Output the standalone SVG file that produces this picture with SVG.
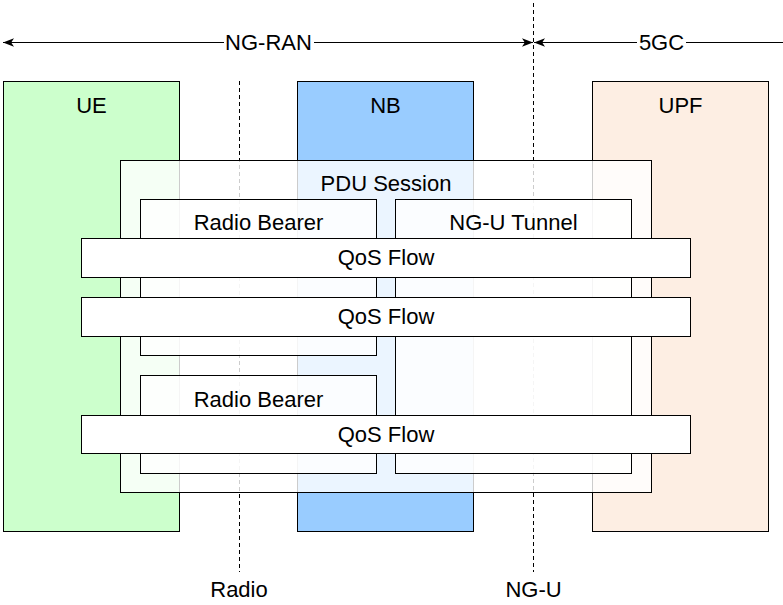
<svg xmlns="http://www.w3.org/2000/svg" width="783" height="605" viewBox="0 0 783 605">
  <style>
    text { font-family: "Liberation Sans", Arial, sans-serif; font-size: 22px; fill: #000; text-anchor: middle; }
    .box { stroke: #000; stroke-width: 1; }
    .ue { fill: #CCFFCC; }
    .nb { fill: #99CCFF; }
    .upf { fill: #FDEEE3; }
    .trans { fill: #FFFFFF; fill-opacity: 0.8; }
    .solid { fill: #FFFFFF; }
    .dash { stroke: #000; stroke-width: 1; stroke-dasharray: 4 3; fill: none; }
    .line { stroke: #000; stroke-width: 1; fill: none; }
  </style>
  <defs>
    <marker id="arrow" viewBox="0 0 11 10" refX="11" refY="5" markerWidth="11" markerHeight="10" markerUnits="userSpaceOnUse" orient="auto-start-reverse">
      <path d="M0,0.8 L11,5 L0,9.2 L2.8,5 Z" fill="#000"/>
    </marker>
  </defs>
  <rect width="783" height="605" fill="#FFFFFF"/>

  <g id="UE"><rect class="box ue" x="3.5" y="81.5" width="176" height="450"/><text x="91.5" y="113">UE</text></g>
  <g id="NB"><rect class="box nb" x="297.5" y="81.5" width="176" height="450"/><text x="385.5" y="113">NB</text></g>
  <g id="UPF"><rect class="box upf" x="592.5" y="81.5" width="176" height="450"/><text x="680.5" y="113">UPF</text></g>

  <g id="boundaries">
    <line class="dash" x1="239.5" y1="81" x2="239.5" y2="572"/>
    <line class="dash" x1="533.5" y1="3" x2="533.5" y2="572"/>
  </g>

  <g id="PDU_Session"><rect class="box trans" x="120.5" y="160.5" width="531" height="332"/><text x="386" y="191">PDU Session</text></g>
  <g id="Radio_Bearer_1"><rect class="box trans" x="140.5" y="199.5" width="236" height="156"/><text x="258.5" y="230">Radio Bearer</text></g>
  <g id="NG-U_Tunnel"><rect class="box trans" x="395.5" y="199.5" width="236" height="274"/><text x="513.5" y="230">NG-U Tunnel</text></g>
  <g id="Radio_Bearer_2"><rect class="box trans" x="140.5" y="375.5" width="236" height="98"/><text x="258.5" y="407">Radio Bearer</text></g>

  <g id="QoS_Flow_1"><rect class="box solid" x="81.5" y="238.5" width="609" height="39"/><text x="386" y="265">QoS Flow</text></g>
  <g id="QoS_Flow_2"><rect class="box solid" x="81.5" y="297.5" width="609" height="39"/><text x="386" y="324">QoS Flow</text></g>
  <g id="QoS_Flow_3"><rect class="box solid" x="81.5" y="415.5" width="609" height="38"/><text x="386" y="442">QoS Flow</text></g>

  <g id="connectors">
    <line class="line" x1="3" y1="42.5" x2="533" y2="42.5" marker-start="url(#arrow)" marker-end="url(#arrow)"/>
    <rect x="224" y="30" width="90" height="25" fill="#FFFFFF"/>
    <text x="268.5" y="50">NG-RAN</text>
    <line class="line" x1="534" y1="42.5" x2="783" y2="42.5" marker-start="url(#arrow)"/>
    <rect x="637" y="30" width="49" height="25" fill="#FFFFFF"/>
    <text x="661.5" y="50">5GC</text>
  </g>

  <g id="labels">
    <text x="239" y="597">Radio</text>
    <text x="533.5" y="597">NG-U</text>
  </g>
</svg>
